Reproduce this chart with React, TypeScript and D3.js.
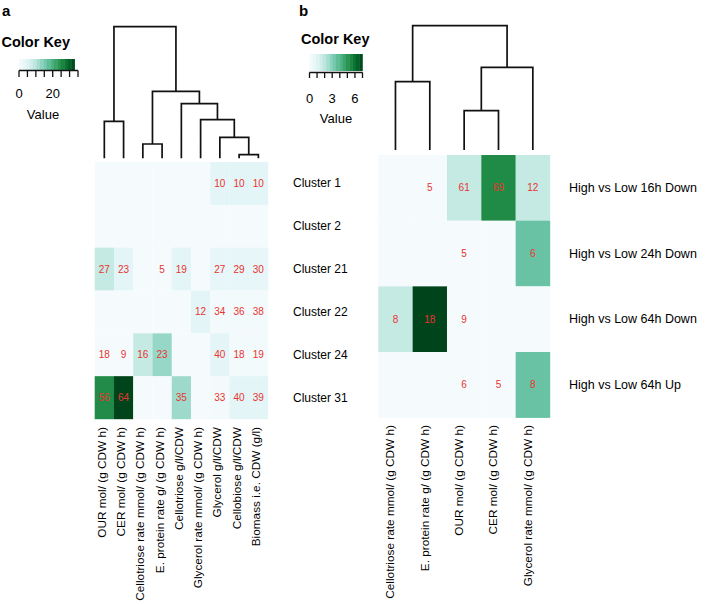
import React from "react";
import * as d3 from "d3";

// ---------- Panel a data ----------
const colsA = [
  "OUR mol/ (g CDW h)",
  "CER mol/ (g CDW h)",
  "Cellotriose rate mmol/ (g CDW h)",
  "E. protein rate g/ (g CDW h)",
  "Cellotriose g/l/CDW",
  "Glycerol rate mmol/ (g CDW h)",
  "Glycerol g/l/CDW",
  "Cellobiose g/l/CDW",
  "Biomass i.e. CDW (g/l)",
];
const rowsA = ["Cluster 1", "Cluster 2", "Cluster 21", "Cluster 22", "Cluster 24", "Cluster 31"];
const colorA = [
  [0.5, 0.5, 0.5, 0.5, 0.5, 0.5, 4, 4, 4],
  [0.5, 0.5, 0.5, 0.5, 0.5, 0.5, 0.5, 0.5, 0.5],
  [8.5, 4, 0.5, 0.5, 4, 0.5, 3.5, 3.5, 3.5],
  [0.5, 0.5, 0.5, 0.5, 0.5, 4, 1, 1, 1],
  [0.5, 0.5, 8.5, 12.5, 0.5, 0.5, 4, 1, 1],
  [24.8, 33, 0.5, 0.5, 12, 0.5, 1, 4, 4],
];
const notesA: (number | null)[][] = [
  [null, null, null, null, null, null, 10, 10, 10],
  [null, null, null, null, null, null, null, null, null],
  [27, 23, null, 5, 19, null, 27, 29, 30],
  [null, null, null, null, null, 12, 34, 36, 38],
  [18, 9, 16, 23, null, null, 40, 18, 19],
  [56, 64, null, null, 35, null, 33, 40, 39],
];
const keyTicksA = [0, 5, 10, 15, 20, 25, 30, 35];
const keyLabelsA = [0, 20];
const keyMaxA = 33;
const treeA = {
  h: 131.6,
  children: [
    { h: 37, children: [{ leaf: 0 }, { leaf: 1 }] },
    {
      h: 67,
      children: [
        { h: 14.3, children: [{ leaf: 2 }, { leaf: 3 }] },
        {
          h: 54.6,
          children: [
            { leaf: 4 },
            {
              h: 38.6,
              children: [
                { leaf: 5 },
                { h: 21, children: [{ leaf: 6 }, { h: 3.6, children: [{ leaf: 7 }, { leaf: 8 }] }] },
              ],
            },
          ],
        },
      ],
    },
  ],
};

// ---------- Panel b data ----------
const colsB = [
  "Cellotriose rate mmol/ (g CDW h)",
  "E. protein rate g/ (g CDW h)",
  "OUR mol/ (g CDW h)",
  "CER mol/ (g CDW h)",
  "Glycerol rate mmol/ (g CDW h)",
];
const rowsB = ["High vs Low 16h Down", "High vs Low 24h Down", "High vs Low 64h Down", "High vs Low 64h Up"];
const colorB = [
  [0.1, 0.1, 1.8, 5.3, 1.8],
  [0.1, 0.1, 0.1, 0.1, 3.5],
  [1.8, 7, 0.1, 0.1, 0.1],
  [0.1, 0.1, 0.1, 0.1, 3.5],
];
const notesB: (number | null)[][] = [
  [null, 5, 61, 69, 12],
  [null, null, 5, null, 6],
  [8, 18, 9, null, null],
  [null, null, 6, 5, 8],
];
const keyTicksB = [0, 1, 2, 3, 4, 5, 6, 7];
const keyLabelsB = [0, 3, 6];
const keyMaxB = 7;
const treeB = {
  h: 124.3,
  children: [
    { h: 68.3, children: [{ leaf: 0 }, { leaf: 1 }] },
    { h: 82.7, children: [{ h: 39.3, children: [{ leaf: 2 }, { leaf: 3 }] }, { leaf: 4 }] },
  ],
};

const FONT = "'Liberation Sans', Arial, Helvetica, sans-serif";
const NOTE = "#e8342f";

function dendroPath(tree: any, xs: (i: number) => number, ys: d3.ScaleLinear<number, number>) {
  const root = d3.hierarchy(tree, (d: any) => d.children);
  root.eachAfter((n: any) => {
    if (!n.children) {
      n.px = xs(n.data.leaf);
      n.py = ys(0);
    } else {
      n.px = d3.mean(n.children, (c: any) => c.px);
      n.py = ys(n.data.h);
    }
  });
  const p = d3.path();
  root.each((n: any) => {
    if (n.children) {
      const [a, b] = n.children;
      p.moveTo(a.px, a.py);
      p.lineTo(a.px, n.py);
      p.lineTo(b.px, n.py);
      p.lineTo(b.px, b.py);
    }
  });
  return p.toString();
}

function Panel(props: any) {
  const {
    letter, letterX, cols, rows, colors, notes, colorMax, keyTicks, keyLabels, keyMax,
    tree, hx0, hx1, hy0, hy1, treeBottom, treeTop, rowLabelX, rowFont,
    keyX0, keyX1, keyBarY0, keyBarY1, keyAxisY, keyTickY, keyLabelY, valueY, valueX,
    colorKeyX, colorKeyY, colLabelTop, colLabelShift,
  } = props;
  const x = d3.scaleBand<number>().domain(d3.range(cols.length)).range([hx0, hx1]);
  const y = d3.scaleBand<number>().domain(d3.range(rows.length)).range([hy0, hy1]);
  const color = d3.scaleSequential(d3.interpolateBuGn).domain([0, colorMax]);
  const ty = d3.scaleLinear().domain([0, tree.h]).range([treeBottom, treeTop]);
  const kx = d3.scaleLinear().domain([0, keyMax]).range([keyX0, keyX1]);
  const nSteps = 16;
  const barEnd = kx(colorMax);
  const steps = d3.range(nSteps).map((i) => ({
    x0: keyX0 + ((barEnd - keyX0) * i) / nSteps,
    x1: keyX0 + ((barEnd - keyX0) * (i + 1)) / nSteps,
    v: (colorMax * (i + 0.5)) / nSteps,
  }));
  const d = dendroPath(tree, (i) => (x(i) as number) + x.bandwidth() / 2, ty);
  return (
    <g fontFamily={FONT}>
      <text x={letterX} y={16} fontSize={15} fontWeight="bold">{letter}</text>
      <text x={colorKeyX} y={colorKeyY} fontSize={14.5} fontWeight="bold">Color Key</text>
      {steps.map((s, i) => (
        <rect key={i} x={s.x0} y={keyBarY0} width={s.x1 - s.x0 + 0.3} height={keyBarY1 - keyBarY0} fill={color(s.v)} />
      ))}
      <line x1={kx(keyTicks[0])} x2={kx(keyTicks[keyTicks.length - 1])} y1={keyAxisY} y2={keyAxisY} stroke="#111" strokeWidth={1.3} />
      {keyTicks.map((t: number) => (
        <line key={t} x1={kx(t)} x2={kx(t)} y1={keyAxisY} y2={keyTickY} stroke="#111" strokeWidth={1.3} />
      ))}
      {keyLabels.map((t: number) => (
        <text key={t} x={kx(t)} y={keyLabelY} fontSize={13} textAnchor="middle">{t}</text>
      ))}
      <text x={valueX} y={valueY} fontSize={13} textAnchor="middle">Value</text>

      <path d={d} fill="none" stroke="#111" strokeWidth={1.7} />

      {rows.map((r: string, ri: number) =>
        cols.map((c: string, ci: number) => (
          <rect key={`${ri}-${ci}`} x={x(ci)} y={y(ri)} width={x.bandwidth() + 0.2} height={y.bandwidth() + 0.2}
            fill={color(colors[ri][ci])} />
        ))
      )}
      {rows.map((r: string, ri: number) =>
        cols.map((c: string, ci: number) =>
          notes[ri][ci] == null ? null : (
            <text key={`t${ri}-${ci}`} x={(x(ci) as number) + x.bandwidth() / 2} y={(y(ri) as number) + y.bandwidth() / 2}
              dominantBaseline="central" textAnchor="middle" fontSize={10} fill={NOTE}>{notes[ri][ci]}</text>
          )
        )
      )}
      {rows.map((r: string, ri: number) => (
        <text key={r} x={rowLabelX} y={(y(ri) as number) + y.bandwidth() / 2} dominantBaseline="central" fontSize={rowFont}>{r}</text>
      ))}
      {cols.map((c: string, ci: number) => {
        const cx = (x(ci) as number) + x.bandwidth() / 2 + colLabelShift;
        return (
          <text key={c} transform={`translate(${cx},${colLabelTop}) rotate(-90)`} textAnchor="end" dominantBaseline="central" fontSize={11.8}>{c}</text>
        );
      })}
    </g>
  );
}

export default function App() {
  return (
    <svg width={710} height={605} style={{ position: "absolute", left: 0, top: 0, background: "#fff" }}>
      <rect width={710} height={605} fill="#fff" />
      <Panel
        letter="a" letterX={2} cols={colsA} rows={rowsA} colors={colorA} notes={notesA} colorMax={keyMaxA}
        keyTicks={keyTicksA} keyLabels={keyLabelsA} keyMax={35} tree={treeA}
        hx0={94.7} hx1={268} hy0={162} hy1={419} treeBottom={158.3} treeTop={26.7}
        rowLabelX={293} rowFont={12}
        keyX0={19} keyX1={78} keyBarY0={59} keyBarY1={70} keyAxisY={70.5} keyTickY={77} keyLabelY={98}
        valueX={43} valueY={119} colorKeyX={1.5} colorKeyY={47} colLabelTop={427} colLabelShift={-2.5}
      />
      <Panel
        letter="b" letterX={299} cols={colsB} rows={rowsB} colors={colorB} notes={notesB} colorMax={keyMaxB}
        keyTicks={keyTicksB} keyLabels={keyLabelsB} keyMax={7} tree={treeB}
        hx0={378.3} hx1={550} hy0={155} hy1={417.7} treeBottom={150} treeTop={25.7}
        rowLabelX={569} rowFont={12.5}
        keyX0={309.5} keyX1={362.5} keyBarY0={54} keyBarY1={71} keyAxisY={72.5} keyTickY={78} keyLabelY={103}
        valueX={336} valueY={123} colorKeyX={301} colorKeyY={44} colLabelTop={425} colLabelShift={-5}
      />
    </svg>
  );
}
